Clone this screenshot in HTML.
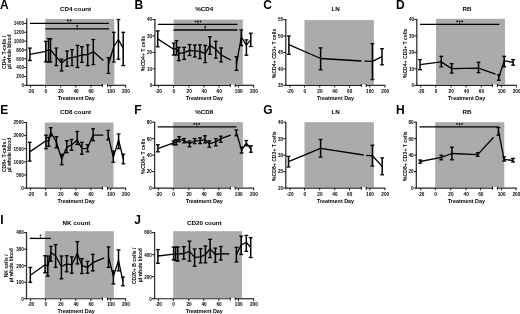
<!DOCTYPE html>
<html><head><meta charset="utf-8"><style>
html,body{margin:0;padding:0;background:#fff;width:520px;height:314px;overflow:hidden}
svg{display:block;filter:blur(0.3px)}
text{font-family:"Liberation Sans",sans-serif}
</style></head><body>
<svg width="520" height="314" viewBox="0 0 520 314">
<rect width="520" height="314" fill="#fff"/>
<rect x="45.30" y="18.90" width="69.00" height="65.60" fill="#ababab"/>
<rect x="173.60" y="19.60" width="69.20" height="64.90" fill="#ababab"/>
<rect x="304.50" y="20.10" width="69.40" height="64.40" fill="#ababab"/>
<rect x="436.00" y="18.80" width="69.00" height="65.70" fill="#ababab"/>
<rect x="44.80" y="122.50" width="68.70" height="64.80" fill="#ababab"/>
<rect x="173.20" y="122.20" width="69.70" height="65.10" fill="#ababab"/>
<rect x="304.50" y="122.20" width="69.40" height="65.10" fill="#ababab"/>
<rect x="435.20" y="122.20" width="69.10" height="65.10" fill="#ababab"/>
<rect x="44.80" y="231.20" width="69.00" height="66.75" fill="#ababab"/>
<rect x="173.20" y="231.20" width="68.80" height="66.75" fill="#ababab"/>
<g stroke="#000" fill="none" stroke-linecap="butt">
<line x1="26.70" y1="18.50" x2="26.70" y2="85.80" stroke-width="1.3" stroke="#333"/>
<line x1="24.10" y1="85.30" x2="26.70" y2="85.30" stroke-width="0.9"/>
<line x1="24.10" y1="76.46" x2="26.70" y2="76.46" stroke-width="0.9"/>
<line x1="24.10" y1="67.62" x2="26.70" y2="67.62" stroke-width="0.9"/>
<line x1="24.10" y1="58.78" x2="26.70" y2="58.78" stroke-width="0.9"/>
<line x1="24.10" y1="49.94" x2="26.70" y2="49.94" stroke-width="0.9"/>
<line x1="24.10" y1="41.10" x2="26.70" y2="41.10" stroke-width="0.9"/>
<line x1="24.10" y1="32.26" x2="26.70" y2="32.26" stroke-width="0.9"/>
<line x1="24.10" y1="23.42" x2="26.70" y2="23.42" stroke-width="0.9"/>
<line x1="26.10" y1="85.30" x2="102.40" y2="85.30" stroke-width="1.2" stroke="#222"/>
<line x1="107.50" y1="85.30" x2="125.90" y2="85.30" stroke-width="1.2" stroke="#222"/>
<line x1="102.40" y1="84.10" x2="102.40" y2="86.90" stroke-width="1.0"/>
<line x1="107.50" y1="84.10" x2="107.50" y2="86.90" stroke-width="1.0"/>
<line x1="30.60" y1="85.30" x2="30.60" y2="87.50" stroke-width="0.9"/>
<line x1="45.60" y1="85.30" x2="45.60" y2="87.50" stroke-width="0.9"/>
<line x1="60.70" y1="85.30" x2="60.70" y2="87.50" stroke-width="0.9"/>
<line x1="75.80" y1="85.30" x2="75.80" y2="87.50" stroke-width="0.9"/>
<line x1="90.90" y1="85.30" x2="90.90" y2="87.50" stroke-width="0.9"/>
<line x1="110.70" y1="85.30" x2="110.70" y2="87.50" stroke-width="0.9"/>
<line x1="125.70" y1="85.30" x2="125.70" y2="87.50" stroke-width="0.9"/>
<line x1="30.00" y1="23.40" x2="109.00" y2="23.40" stroke-width="1.3"/>
<line x1="69.20" y1="22.00" x2="69.20" y2="23.40" stroke-width="0.8"/>
<line x1="45.30" y1="28.80" x2="109.00" y2="28.80" stroke-width="1.3"/>
<line x1="77.20" y1="27.40" x2="77.20" y2="28.80" stroke-width="0.8"/>
<polyline points="29.90,54.40 45.80,51.30 48.60,49.70 50.50,50.00 56.25,56.70 61.60,63.00 67.10,58.60 72.00,57.70 77.50,56.40 81.90,55.00 87.70,54.70 93.30,51.60 103.40,60.60" stroke-width="1.3" stroke-linejoin="round"/>
<line x1="29.90" y1="48.10" x2="29.90" y2="60.50" stroke-width="1.5"/>
<line x1="28.00" y1="48.10" x2="31.80" y2="48.10" stroke-width="1.3"/>
<line x1="28.00" y1="60.50" x2="31.80" y2="60.50" stroke-width="1.3"/>
<line x1="45.80" y1="41.40" x2="45.80" y2="61.80" stroke-width="1.5"/>
<line x1="43.90" y1="41.40" x2="47.70" y2="41.40" stroke-width="1.3"/>
<line x1="43.90" y1="61.80" x2="47.70" y2="61.80" stroke-width="1.3"/>
<line x1="48.60" y1="38.60" x2="48.60" y2="62.00" stroke-width="1.5"/>
<line x1="46.70" y1="38.60" x2="50.50" y2="38.60" stroke-width="1.3"/>
<line x1="46.70" y1="62.00" x2="50.50" y2="62.00" stroke-width="1.3"/>
<line x1="50.50" y1="38.80" x2="50.50" y2="62.00" stroke-width="1.5"/>
<line x1="48.60" y1="38.80" x2="52.40" y2="38.80" stroke-width="1.3"/>
<line x1="48.60" y1="62.00" x2="52.40" y2="62.00" stroke-width="1.3"/>
<line x1="56.25" y1="48.10" x2="56.25" y2="65.60" stroke-width="1.5"/>
<line x1="54.35" y1="48.10" x2="58.15" y2="48.10" stroke-width="1.3"/>
<line x1="54.35" y1="65.60" x2="58.15" y2="65.60" stroke-width="1.3"/>
<line x1="61.60" y1="59.20" x2="61.60" y2="71.00" stroke-width="1.5"/>
<line x1="59.70" y1="59.20" x2="63.50" y2="59.20" stroke-width="1.3"/>
<line x1="59.70" y1="71.00" x2="63.50" y2="71.00" stroke-width="1.3"/>
<line x1="67.10" y1="51.00" x2="67.10" y2="66.25" stroke-width="1.5"/>
<line x1="65.20" y1="51.00" x2="69.00" y2="51.00" stroke-width="1.3"/>
<line x1="65.20" y1="66.25" x2="69.00" y2="66.25" stroke-width="1.3"/>
<line x1="72.00" y1="49.60" x2="72.00" y2="65.60" stroke-width="1.5"/>
<line x1="70.10" y1="49.60" x2="73.90" y2="49.60" stroke-width="1.3"/>
<line x1="70.10" y1="65.60" x2="73.90" y2="65.60" stroke-width="1.3"/>
<line x1="77.50" y1="45.40" x2="77.50" y2="67.50" stroke-width="1.5"/>
<line x1="75.60" y1="45.40" x2="79.40" y2="45.40" stroke-width="1.3"/>
<line x1="75.60" y1="67.50" x2="79.40" y2="67.50" stroke-width="1.3"/>
<line x1="81.90" y1="46.70" x2="81.90" y2="62.40" stroke-width="1.5"/>
<line x1="80.00" y1="46.70" x2="83.80" y2="46.70" stroke-width="1.3"/>
<line x1="80.00" y1="62.40" x2="83.80" y2="62.40" stroke-width="1.3"/>
<line x1="87.70" y1="44.90" x2="87.70" y2="65.60" stroke-width="1.5"/>
<line x1="85.80" y1="44.90" x2="89.60" y2="44.90" stroke-width="1.3"/>
<line x1="85.80" y1="65.60" x2="89.60" y2="65.60" stroke-width="1.3"/>
<line x1="93.30" y1="39.50" x2="93.30" y2="64.60" stroke-width="1.5"/>
<line x1="91.40" y1="39.50" x2="95.20" y2="39.50" stroke-width="1.3"/>
<line x1="91.40" y1="64.60" x2="95.20" y2="64.60" stroke-width="1.3"/>
<polyline points="108.40,64.50 113.80,46.50 118.40,39.50 123.20,48.40" stroke-width="1.3" stroke-linejoin="round"/>
<line x1="108.40" y1="57.60" x2="108.40" y2="73.40" stroke-width="1.5"/>
<line x1="106.50" y1="57.60" x2="110.30" y2="57.60" stroke-width="1.3"/>
<line x1="106.50" y1="73.40" x2="110.30" y2="73.40" stroke-width="1.3"/>
<line x1="113.80" y1="32.30" x2="113.80" y2="62.00" stroke-width="1.5"/>
<line x1="111.90" y1="32.30" x2="115.70" y2="32.30" stroke-width="1.3"/>
<line x1="111.90" y1="62.00" x2="115.70" y2="62.00" stroke-width="1.3"/>
<line x1="118.40" y1="19.50" x2="118.40" y2="59.20" stroke-width="1.5"/>
<line x1="116.50" y1="19.50" x2="120.30" y2="19.50" stroke-width="1.3"/>
<line x1="116.50" y1="59.20" x2="120.30" y2="59.20" stroke-width="1.3"/>
<line x1="123.20" y1="32.30" x2="123.20" y2="65.60" stroke-width="1.5"/>
<line x1="121.30" y1="32.30" x2="125.10" y2="32.30" stroke-width="1.3"/>
<line x1="121.30" y1="65.60" x2="125.10" y2="65.60" stroke-width="1.3"/>
<line x1="154.90" y1="19.00" x2="154.90" y2="85.80" stroke-width="1.3" stroke="#333"/>
<line x1="152.30" y1="85.30" x2="154.90" y2="85.30" stroke-width="0.9"/>
<line x1="152.30" y1="68.85" x2="154.90" y2="68.85" stroke-width="0.9"/>
<line x1="152.30" y1="52.40" x2="154.90" y2="52.40" stroke-width="0.9"/>
<line x1="152.30" y1="35.95" x2="154.90" y2="35.95" stroke-width="0.9"/>
<line x1="152.30" y1="19.50" x2="154.90" y2="19.50" stroke-width="0.9"/>
<line x1="154.30" y1="85.30" x2="230.30" y2="85.30" stroke-width="1.2" stroke="#222"/>
<line x1="235.20" y1="85.30" x2="253.90" y2="85.30" stroke-width="1.2" stroke="#222"/>
<line x1="230.30" y1="84.10" x2="230.30" y2="86.90" stroke-width="1.0"/>
<line x1="235.20" y1="84.10" x2="235.20" y2="86.90" stroke-width="1.0"/>
<line x1="158.40" y1="85.30" x2="158.40" y2="87.50" stroke-width="0.9"/>
<line x1="173.50" y1="85.30" x2="173.50" y2="87.50" stroke-width="0.9"/>
<line x1="189.00" y1="85.30" x2="189.00" y2="87.50" stroke-width="0.9"/>
<line x1="204.00" y1="85.30" x2="204.00" y2="87.50" stroke-width="0.9"/>
<line x1="219.00" y1="85.30" x2="219.00" y2="87.50" stroke-width="0.9"/>
<line x1="238.50" y1="85.30" x2="238.50" y2="87.50" stroke-width="0.9"/>
<line x1="253.70" y1="85.30" x2="253.70" y2="87.50" stroke-width="0.9"/>
<line x1="158.00" y1="24.40" x2="237.40" y2="24.40" stroke-width="1.3"/>
<line x1="198.00" y1="23.00" x2="198.00" y2="24.40" stroke-width="0.8"/>
<line x1="173.60" y1="30.00" x2="237.40" y2="30.00" stroke-width="1.3"/>
<line x1="205.20" y1="28.60" x2="205.20" y2="30.00" stroke-width="0.8"/>
<polyline points="157.70,38.90 173.70,49.30 176.50,48.40 178.80,53.60 184.10,52.70 189.60,50.30 194.80,50.80 199.90,51.40 205.20,53.70 209.90,45.40 215.80,49.20 221.10,54.90 230.70,60.00" stroke-width="1.3" stroke-linejoin="round"/>
<line x1="157.70" y1="30.90" x2="157.70" y2="46.80" stroke-width="1.5"/>
<line x1="155.80" y1="30.90" x2="159.60" y2="30.90" stroke-width="1.3"/>
<line x1="155.80" y1="46.80" x2="159.60" y2="46.80" stroke-width="1.3"/>
<line x1="173.70" y1="43.10" x2="173.70" y2="55.00" stroke-width="1.5"/>
<line x1="171.80" y1="43.10" x2="175.60" y2="43.10" stroke-width="1.3"/>
<line x1="171.80" y1="55.00" x2="175.60" y2="55.00" stroke-width="1.3"/>
<line x1="176.50" y1="40.70" x2="176.50" y2="55.00" stroke-width="1.5"/>
<line x1="174.60" y1="40.70" x2="178.40" y2="40.70" stroke-width="1.3"/>
<line x1="174.60" y1="55.00" x2="178.40" y2="55.00" stroke-width="1.3"/>
<line x1="178.80" y1="47.40" x2="178.80" y2="60.60" stroke-width="1.5"/>
<line x1="176.90" y1="47.40" x2="180.70" y2="47.40" stroke-width="1.3"/>
<line x1="176.90" y1="60.60" x2="180.70" y2="60.60" stroke-width="1.3"/>
<line x1="184.10" y1="47.40" x2="184.10" y2="59.40" stroke-width="1.5"/>
<line x1="182.20" y1="47.40" x2="186.00" y2="47.40" stroke-width="1.3"/>
<line x1="182.20" y1="59.40" x2="186.00" y2="59.40" stroke-width="1.3"/>
<line x1="189.60" y1="44.50" x2="189.60" y2="55.50" stroke-width="1.5"/>
<line x1="187.70" y1="44.50" x2="191.50" y2="44.50" stroke-width="1.3"/>
<line x1="187.70" y1="55.50" x2="191.50" y2="55.50" stroke-width="1.3"/>
<line x1="194.80" y1="45.00" x2="194.80" y2="57.00" stroke-width="1.5"/>
<line x1="192.90" y1="45.00" x2="196.70" y2="45.00" stroke-width="1.3"/>
<line x1="192.90" y1="57.00" x2="196.70" y2="57.00" stroke-width="1.3"/>
<line x1="199.90" y1="44.80" x2="199.90" y2="58.60" stroke-width="1.5"/>
<line x1="198.00" y1="44.80" x2="201.80" y2="44.80" stroke-width="1.3"/>
<line x1="198.00" y1="58.60" x2="201.80" y2="58.60" stroke-width="1.3"/>
<line x1="205.20" y1="45.40" x2="205.20" y2="62.60" stroke-width="1.5"/>
<line x1="203.30" y1="45.40" x2="207.10" y2="45.40" stroke-width="1.3"/>
<line x1="203.30" y1="62.60" x2="207.10" y2="62.60" stroke-width="1.3"/>
<line x1="209.90" y1="36.70" x2="209.90" y2="54.30" stroke-width="1.5"/>
<line x1="208.00" y1="36.70" x2="211.80" y2="36.70" stroke-width="1.3"/>
<line x1="208.00" y1="54.30" x2="211.80" y2="54.30" stroke-width="1.3"/>
<line x1="215.80" y1="41.30" x2="215.80" y2="58.10" stroke-width="1.5"/>
<line x1="213.90" y1="41.30" x2="217.70" y2="41.30" stroke-width="1.3"/>
<line x1="213.90" y1="58.10" x2="217.70" y2="58.10" stroke-width="1.3"/>
<line x1="221.10" y1="47.90" x2="221.10" y2="61.90" stroke-width="1.5"/>
<line x1="219.20" y1="47.90" x2="223.00" y2="47.90" stroke-width="1.3"/>
<line x1="219.20" y1="61.90" x2="223.00" y2="61.90" stroke-width="1.3"/>
<polyline points="236.50,63.80 241.30,37.00 246.40,45.20 250.80,39.90" stroke-width="1.3" stroke-linejoin="round"/>
<line x1="236.50" y1="56.70" x2="236.50" y2="70.40" stroke-width="1.5"/>
<line x1="234.60" y1="56.70" x2="238.40" y2="56.70" stroke-width="1.3"/>
<line x1="234.60" y1="70.40" x2="238.40" y2="70.40" stroke-width="1.3"/>
<line x1="241.30" y1="29.90" x2="241.30" y2="45.60" stroke-width="1.5"/>
<line x1="239.40" y1="29.90" x2="243.20" y2="29.90" stroke-width="1.3"/>
<line x1="239.40" y1="45.60" x2="243.20" y2="45.60" stroke-width="1.3"/>
<line x1="246.40" y1="39.90" x2="246.40" y2="55.20" stroke-width="1.5"/>
<line x1="244.50" y1="39.90" x2="248.30" y2="39.90" stroke-width="1.3"/>
<line x1="244.50" y1="55.20" x2="248.30" y2="55.20" stroke-width="1.3"/>
<line x1="250.80" y1="33.20" x2="250.80" y2="46.50" stroke-width="1.5"/>
<line x1="248.90" y1="33.20" x2="252.70" y2="33.20" stroke-width="1.3"/>
<line x1="248.90" y1="46.50" x2="252.70" y2="46.50" stroke-width="1.3"/>
<line x1="285.80" y1="19.10" x2="285.80" y2="85.80" stroke-width="1.3" stroke="#333"/>
<line x1="283.20" y1="85.30" x2="285.80" y2="85.30" stroke-width="0.9"/>
<line x1="283.20" y1="68.88" x2="285.80" y2="68.88" stroke-width="0.9"/>
<line x1="283.20" y1="52.45" x2="285.80" y2="52.45" stroke-width="0.9"/>
<line x1="283.20" y1="36.03" x2="285.80" y2="36.03" stroke-width="0.9"/>
<line x1="283.20" y1="19.60" x2="285.80" y2="19.60" stroke-width="0.9"/>
<line x1="285.20" y1="85.30" x2="361.40" y2="85.30" stroke-width="1.2" stroke="#222"/>
<line x1="366.20" y1="85.30" x2="385.20" y2="85.30" stroke-width="1.2" stroke="#222"/>
<line x1="361.40" y1="84.10" x2="361.40" y2="86.90" stroke-width="1.0"/>
<line x1="366.20" y1="84.10" x2="366.20" y2="86.90" stroke-width="1.0"/>
<line x1="290.00" y1="85.30" x2="290.00" y2="87.50" stroke-width="0.9"/>
<line x1="304.50" y1="85.30" x2="304.50" y2="87.50" stroke-width="0.9"/>
<line x1="319.70" y1="85.30" x2="319.70" y2="87.50" stroke-width="0.9"/>
<line x1="334.70" y1="85.30" x2="334.70" y2="87.50" stroke-width="0.9"/>
<line x1="349.50" y1="85.30" x2="349.50" y2="87.50" stroke-width="0.9"/>
<line x1="369.80" y1="85.30" x2="369.80" y2="87.50" stroke-width="0.9"/>
<line x1="385.00" y1="85.30" x2="385.00" y2="87.50" stroke-width="0.9"/>
<polyline points="288.90,44.70 320.60,58.50 361.40,61.00" stroke-width="1.3" stroke-linejoin="round"/>
<line x1="288.90" y1="36.00" x2="288.90" y2="54.20" stroke-width="1.5"/>
<line x1="287.00" y1="36.00" x2="290.80" y2="36.00" stroke-width="1.3"/>
<line x1="287.00" y1="54.20" x2="290.80" y2="54.20" stroke-width="1.3"/>
<line x1="320.60" y1="47.90" x2="320.60" y2="69.80" stroke-width="1.5"/>
<line x1="318.70" y1="47.90" x2="322.50" y2="47.90" stroke-width="1.3"/>
<line x1="318.70" y1="69.80" x2="322.50" y2="69.80" stroke-width="1.3"/>
<polyline points="364.60,61.20 372.40,61.40 382.00,56.70" stroke-width="1.3" stroke-linejoin="round"/>
<line x1="372.40" y1="43.60" x2="372.40" y2="79.60" stroke-width="1.5"/>
<line x1="370.50" y1="43.60" x2="374.30" y2="43.60" stroke-width="1.3"/>
<line x1="370.50" y1="79.60" x2="374.30" y2="79.60" stroke-width="1.3"/>
<line x1="382.00" y1="48.70" x2="382.00" y2="64.80" stroke-width="1.5"/>
<line x1="380.10" y1="48.70" x2="383.90" y2="48.70" stroke-width="1.3"/>
<line x1="380.10" y1="64.80" x2="383.90" y2="64.80" stroke-width="1.3"/>
<line x1="416.80" y1="18.90" x2="416.80" y2="85.80" stroke-width="1.3" stroke="#333"/>
<line x1="414.20" y1="85.30" x2="416.80" y2="85.30" stroke-width="0.9"/>
<line x1="414.20" y1="68.82" x2="416.80" y2="68.82" stroke-width="0.9"/>
<line x1="414.20" y1="52.35" x2="416.80" y2="52.35" stroke-width="0.9"/>
<line x1="414.20" y1="35.87" x2="416.80" y2="35.87" stroke-width="0.9"/>
<line x1="414.20" y1="19.40" x2="416.80" y2="19.40" stroke-width="0.9"/>
<line x1="416.20" y1="85.30" x2="492.50" y2="85.30" stroke-width="1.2" stroke="#222"/>
<line x1="497.40" y1="85.30" x2="516.60" y2="85.30" stroke-width="1.2" stroke="#222"/>
<line x1="492.50" y1="84.10" x2="492.50" y2="86.90" stroke-width="1.0"/>
<line x1="497.40" y1="84.10" x2="497.40" y2="86.90" stroke-width="1.0"/>
<line x1="420.80" y1="85.30" x2="420.80" y2="87.50" stroke-width="0.9"/>
<line x1="435.80" y1="85.30" x2="435.80" y2="87.50" stroke-width="0.9"/>
<line x1="451.00" y1="85.30" x2="451.00" y2="87.50" stroke-width="0.9"/>
<line x1="466.20" y1="85.30" x2="466.20" y2="87.50" stroke-width="0.9"/>
<line x1="481.20" y1="85.30" x2="481.20" y2="87.50" stroke-width="0.9"/>
<line x1="501.40" y1="85.30" x2="501.40" y2="87.50" stroke-width="0.9"/>
<line x1="516.40" y1="85.30" x2="516.40" y2="87.50" stroke-width="0.9"/>
<line x1="420.00" y1="24.40" x2="499.30" y2="24.40" stroke-width="1.3"/>
<line x1="459.60" y1="23.00" x2="459.60" y2="24.40" stroke-width="0.8"/>
<polyline points="420.00,64.60 441.25,61.90 451.70,68.60 478.50,68.10 495.50,74.20" stroke-width="1.3" stroke-linejoin="round"/>
<line x1="420.00" y1="59.60" x2="420.00" y2="69.70" stroke-width="1.5"/>
<line x1="418.10" y1="59.60" x2="421.90" y2="59.60" stroke-width="1.3"/>
<line x1="418.10" y1="69.70" x2="421.90" y2="69.70" stroke-width="1.3"/>
<line x1="441.25" y1="56.30" x2="441.25" y2="66.80" stroke-width="1.5"/>
<line x1="439.35" y1="56.30" x2="443.15" y2="56.30" stroke-width="1.3"/>
<line x1="439.35" y1="66.80" x2="443.15" y2="66.80" stroke-width="1.3"/>
<line x1="451.70" y1="63.70" x2="451.70" y2="73.00" stroke-width="1.5"/>
<line x1="449.80" y1="63.70" x2="453.60" y2="63.70" stroke-width="1.3"/>
<line x1="449.80" y1="73.00" x2="453.60" y2="73.00" stroke-width="1.3"/>
<line x1="478.50" y1="62.30" x2="478.50" y2="72.60" stroke-width="1.5"/>
<line x1="476.60" y1="62.30" x2="480.40" y2="62.30" stroke-width="1.3"/>
<line x1="476.60" y1="72.60" x2="480.40" y2="72.60" stroke-width="1.3"/>
<polyline points="498.80,77.50 504.20,60.80 513.10,62.30" stroke-width="1.3" stroke-linejoin="round"/>
<line x1="498.80" y1="74.80" x2="498.80" y2="80.20" stroke-width="1.5"/>
<line x1="496.90" y1="74.80" x2="500.70" y2="74.80" stroke-width="1.3"/>
<line x1="496.90" y1="80.20" x2="500.70" y2="80.20" stroke-width="1.3"/>
<line x1="504.20" y1="56.30" x2="504.20" y2="66.80" stroke-width="1.5"/>
<line x1="502.30" y1="56.30" x2="506.10" y2="56.30" stroke-width="1.3"/>
<line x1="502.30" y1="66.80" x2="506.10" y2="66.80" stroke-width="1.3"/>
<line x1="513.10" y1="59.60" x2="513.10" y2="65.20" stroke-width="1.5"/>
<line x1="511.20" y1="59.60" x2="515.00" y2="59.60" stroke-width="1.3"/>
<line x1="511.20" y1="65.20" x2="515.00" y2="65.20" stroke-width="1.3"/>
<line x1="26.50" y1="122.00" x2="26.50" y2="188.60" stroke-width="1.3" stroke="#333"/>
<line x1="23.90" y1="188.10" x2="26.50" y2="188.10" stroke-width="0.9"/>
<line x1="23.90" y1="174.98" x2="26.50" y2="174.98" stroke-width="0.9"/>
<line x1="23.90" y1="161.86" x2="26.50" y2="161.86" stroke-width="0.9"/>
<line x1="23.90" y1="148.74" x2="26.50" y2="148.74" stroke-width="0.9"/>
<line x1="23.90" y1="135.62" x2="26.50" y2="135.62" stroke-width="0.9"/>
<line x1="23.90" y1="122.50" x2="26.50" y2="122.50" stroke-width="0.9"/>
<line x1="25.90" y1="188.10" x2="102.40" y2="188.10" stroke-width="1.2" stroke="#222"/>
<line x1="107.50" y1="188.10" x2="125.90" y2="188.10" stroke-width="1.2" stroke="#222"/>
<line x1="102.40" y1="186.90" x2="102.40" y2="189.70" stroke-width="1.0"/>
<line x1="107.50" y1="186.90" x2="107.50" y2="189.70" stroke-width="1.0"/>
<line x1="30.60" y1="188.10" x2="30.60" y2="190.30" stroke-width="0.9"/>
<line x1="45.60" y1="188.10" x2="45.60" y2="190.30" stroke-width="0.9"/>
<line x1="60.70" y1="188.10" x2="60.70" y2="190.30" stroke-width="0.9"/>
<line x1="75.80" y1="188.10" x2="75.80" y2="190.30" stroke-width="0.9"/>
<line x1="90.90" y1="188.10" x2="90.90" y2="190.30" stroke-width="0.9"/>
<line x1="110.70" y1="188.10" x2="110.70" y2="190.30" stroke-width="0.9"/>
<line x1="125.70" y1="188.10" x2="125.70" y2="190.30" stroke-width="0.9"/>
<polyline points="29.70,151.90 46.00,140.70 48.60,141.50 50.80,132.00 56.40,142.30 61.70,159.10 66.80,147.10 71.50,145.00 77.20,139.90 81.90,148.70 87.50,148.30 93.10,135.10 103.40,135.10" stroke-width="1.3" stroke-linejoin="round"/>
<line x1="29.70" y1="142.30" x2="29.70" y2="161.10" stroke-width="1.5"/>
<line x1="27.80" y1="142.30" x2="31.60" y2="142.30" stroke-width="1.3"/>
<line x1="27.80" y1="161.10" x2="31.60" y2="161.10" stroke-width="1.3"/>
<line x1="46.00" y1="135.20" x2="46.00" y2="148.70" stroke-width="1.5"/>
<line x1="44.10" y1="135.20" x2="47.90" y2="135.20" stroke-width="1.3"/>
<line x1="44.10" y1="148.70" x2="47.90" y2="148.70" stroke-width="1.3"/>
<line x1="48.60" y1="137.50" x2="48.60" y2="146.30" stroke-width="1.5"/>
<line x1="46.70" y1="137.50" x2="50.50" y2="137.50" stroke-width="1.3"/>
<line x1="46.70" y1="146.30" x2="50.50" y2="146.30" stroke-width="1.3"/>
<line x1="50.80" y1="127.70" x2="50.80" y2="136.00" stroke-width="1.5"/>
<line x1="48.90" y1="127.70" x2="52.70" y2="127.70" stroke-width="1.3"/>
<line x1="48.90" y1="136.00" x2="52.70" y2="136.00" stroke-width="1.3"/>
<line x1="56.40" y1="136.70" x2="56.40" y2="147.90" stroke-width="1.5"/>
<line x1="54.50" y1="136.70" x2="58.30" y2="136.70" stroke-width="1.3"/>
<line x1="54.50" y1="147.90" x2="58.30" y2="147.90" stroke-width="1.3"/>
<line x1="61.70" y1="154.30" x2="61.70" y2="164.70" stroke-width="1.5"/>
<line x1="59.80" y1="154.30" x2="63.60" y2="154.30" stroke-width="1.3"/>
<line x1="59.80" y1="164.70" x2="63.60" y2="164.70" stroke-width="1.3"/>
<line x1="66.80" y1="140.70" x2="66.80" y2="152.70" stroke-width="1.5"/>
<line x1="64.90" y1="140.70" x2="68.70" y2="140.70" stroke-width="1.3"/>
<line x1="64.90" y1="152.70" x2="68.70" y2="152.70" stroke-width="1.3"/>
<line x1="71.50" y1="139.50" x2="71.50" y2="150.30" stroke-width="1.5"/>
<line x1="69.60" y1="139.50" x2="73.40" y2="139.50" stroke-width="1.3"/>
<line x1="69.60" y1="150.30" x2="73.40" y2="150.30" stroke-width="1.3"/>
<line x1="77.20" y1="131.50" x2="77.20" y2="144.50" stroke-width="1.5"/>
<line x1="75.30" y1="131.50" x2="79.10" y2="131.50" stroke-width="1.3"/>
<line x1="75.30" y1="144.50" x2="79.10" y2="144.50" stroke-width="1.3"/>
<line x1="81.90" y1="142.30" x2="81.90" y2="154.20" stroke-width="1.5"/>
<line x1="80.00" y1="142.30" x2="83.80" y2="142.30" stroke-width="1.3"/>
<line x1="80.00" y1="154.20" x2="83.80" y2="154.20" stroke-width="1.3"/>
<line x1="87.50" y1="144.70" x2="87.50" y2="151.80" stroke-width="1.5"/>
<line x1="85.60" y1="144.70" x2="89.40" y2="144.70" stroke-width="1.3"/>
<line x1="85.60" y1="151.80" x2="89.40" y2="151.80" stroke-width="1.3"/>
<line x1="93.10" y1="128.80" x2="93.10" y2="140.70" stroke-width="1.5"/>
<line x1="91.20" y1="128.80" x2="95.00" y2="128.80" stroke-width="1.3"/>
<line x1="91.20" y1="140.70" x2="95.00" y2="140.70" stroke-width="1.3"/>
<polyline points="108.20,135.10 113.30,157.40 118.60,139.90 123.30,159.00" stroke-width="1.3" stroke-linejoin="round"/>
<line x1="108.20" y1="130.40" x2="108.20" y2="139.90" stroke-width="1.5"/>
<line x1="106.30" y1="130.40" x2="110.10" y2="130.40" stroke-width="1.3"/>
<line x1="106.30" y1="139.90" x2="110.10" y2="139.90" stroke-width="1.3"/>
<line x1="113.30" y1="151.00" x2="113.30" y2="162.20" stroke-width="1.5"/>
<line x1="111.40" y1="151.00" x2="115.20" y2="151.00" stroke-width="1.3"/>
<line x1="111.40" y1="162.20" x2="115.20" y2="162.20" stroke-width="1.3"/>
<line x1="118.60" y1="134.00" x2="118.60" y2="148.70" stroke-width="1.5"/>
<line x1="116.70" y1="134.00" x2="120.50" y2="134.00" stroke-width="1.3"/>
<line x1="116.70" y1="148.70" x2="120.50" y2="148.70" stroke-width="1.3"/>
<line x1="123.30" y1="154.20" x2="123.30" y2="163.80" stroke-width="1.5"/>
<line x1="121.40" y1="154.20" x2="125.20" y2="154.20" stroke-width="1.3"/>
<line x1="121.40" y1="163.80" x2="125.20" y2="163.80" stroke-width="1.3"/>
<line x1="154.60" y1="121.70" x2="154.60" y2="188.60" stroke-width="1.3" stroke="#333"/>
<line x1="152.00" y1="188.10" x2="154.60" y2="188.10" stroke-width="0.9"/>
<line x1="152.00" y1="171.62" x2="154.60" y2="171.62" stroke-width="0.9"/>
<line x1="152.00" y1="155.15" x2="154.60" y2="155.15" stroke-width="0.9"/>
<line x1="152.00" y1="138.68" x2="154.60" y2="138.68" stroke-width="0.9"/>
<line x1="152.00" y1="122.20" x2="154.60" y2="122.20" stroke-width="0.9"/>
<line x1="154.00" y1="188.10" x2="230.30" y2="188.10" stroke-width="1.2" stroke="#222"/>
<line x1="235.20" y1="188.10" x2="253.90" y2="188.10" stroke-width="1.2" stroke="#222"/>
<line x1="230.30" y1="186.90" x2="230.30" y2="189.70" stroke-width="1.0"/>
<line x1="235.20" y1="186.90" x2="235.20" y2="189.70" stroke-width="1.0"/>
<line x1="158.40" y1="188.10" x2="158.40" y2="190.30" stroke-width="0.9"/>
<line x1="173.30" y1="188.10" x2="173.30" y2="190.30" stroke-width="0.9"/>
<line x1="188.80" y1="188.10" x2="188.80" y2="190.30" stroke-width="0.9"/>
<line x1="203.80" y1="188.10" x2="203.80" y2="190.30" stroke-width="0.9"/>
<line x1="218.80" y1="188.10" x2="218.80" y2="190.30" stroke-width="0.9"/>
<line x1="238.50" y1="188.10" x2="238.50" y2="190.30" stroke-width="0.9"/>
<line x1="253.70" y1="188.10" x2="253.70" y2="190.30" stroke-width="0.9"/>
<line x1="157.60" y1="126.80" x2="236.50" y2="126.80" stroke-width="1.3"/>
<line x1="196.80" y1="125.40" x2="196.80" y2="126.80" stroke-width="0.8"/>
<polyline points="157.90,148.70 173.60,142.90 176.10,142.30 179.00,139.10 184.10,140.60 189.50,143.60 194.60,141.00 200.10,140.70 205.00,139.60 209.30,143.70 215.80,141.90 220.80,138.60 230.80,135.10" stroke-width="1.3" stroke-linejoin="round"/>
<line x1="157.90" y1="144.80" x2="157.90" y2="151.80" stroke-width="1.5"/>
<line x1="156.00" y1="144.80" x2="159.80" y2="144.80" stroke-width="1.3"/>
<line x1="156.00" y1="151.80" x2="159.80" y2="151.80" stroke-width="1.3"/>
<line x1="173.60" y1="141.00" x2="173.60" y2="144.80" stroke-width="1.5"/>
<line x1="171.70" y1="141.00" x2="175.50" y2="141.00" stroke-width="1.3"/>
<line x1="171.70" y1="144.80" x2="175.50" y2="144.80" stroke-width="1.3"/>
<line x1="176.10" y1="139.70" x2="176.10" y2="144.80" stroke-width="1.5"/>
<line x1="174.20" y1="139.70" x2="178.00" y2="139.70" stroke-width="1.3"/>
<line x1="174.20" y1="144.80" x2="178.00" y2="144.80" stroke-width="1.3"/>
<line x1="179.00" y1="136.60" x2="179.00" y2="141.70" stroke-width="1.5"/>
<line x1="177.10" y1="136.60" x2="180.90" y2="136.60" stroke-width="1.3"/>
<line x1="177.10" y1="141.70" x2="180.90" y2="141.70" stroke-width="1.3"/>
<line x1="184.10" y1="138.50" x2="184.10" y2="142.90" stroke-width="1.5"/>
<line x1="182.20" y1="138.50" x2="186.00" y2="138.50" stroke-width="1.3"/>
<line x1="182.20" y1="142.90" x2="186.00" y2="142.90" stroke-width="1.3"/>
<line x1="189.50" y1="141.00" x2="189.50" y2="146.80" stroke-width="1.5"/>
<line x1="187.60" y1="141.00" x2="191.40" y2="141.00" stroke-width="1.3"/>
<line x1="187.60" y1="146.80" x2="191.40" y2="146.80" stroke-width="1.3"/>
<line x1="194.60" y1="138.50" x2="194.60" y2="143.60" stroke-width="1.5"/>
<line x1="192.70" y1="138.50" x2="196.50" y2="138.50" stroke-width="1.3"/>
<line x1="192.70" y1="143.60" x2="196.50" y2="143.60" stroke-width="1.3"/>
<line x1="200.10" y1="137.80" x2="200.10" y2="143.60" stroke-width="1.5"/>
<line x1="198.20" y1="137.80" x2="202.00" y2="137.80" stroke-width="1.3"/>
<line x1="198.20" y1="143.60" x2="202.00" y2="143.60" stroke-width="1.3"/>
<line x1="205.00" y1="135.80" x2="205.00" y2="142.90" stroke-width="1.5"/>
<line x1="203.10" y1="135.80" x2="206.90" y2="135.80" stroke-width="1.3"/>
<line x1="203.10" y1="142.90" x2="206.90" y2="142.90" stroke-width="1.3"/>
<line x1="209.30" y1="140.80" x2="209.30" y2="147.20" stroke-width="1.5"/>
<line x1="207.40" y1="140.80" x2="211.20" y2="140.80" stroke-width="1.3"/>
<line x1="207.40" y1="147.20" x2="211.20" y2="147.20" stroke-width="1.3"/>
<line x1="215.80" y1="138.60" x2="215.80" y2="145.80" stroke-width="1.5"/>
<line x1="213.90" y1="138.60" x2="217.70" y2="138.60" stroke-width="1.3"/>
<line x1="213.90" y1="145.80" x2="217.70" y2="145.80" stroke-width="1.3"/>
<line x1="220.80" y1="136.20" x2="220.80" y2="142.20" stroke-width="1.5"/>
<line x1="218.90" y1="136.20" x2="222.70" y2="136.20" stroke-width="1.3"/>
<line x1="218.90" y1="142.20" x2="222.70" y2="142.20" stroke-width="1.3"/>
<polyline points="236.30,132.50 241.60,150.10 246.30,142.90 250.90,149.40" stroke-width="1.3" stroke-linejoin="round"/>
<line x1="236.30" y1="130.00" x2="236.30" y2="135.80" stroke-width="1.5"/>
<line x1="234.40" y1="130.00" x2="238.20" y2="130.00" stroke-width="1.3"/>
<line x1="234.40" y1="135.80" x2="238.20" y2="135.80" stroke-width="1.3"/>
<line x1="241.60" y1="147.20" x2="241.60" y2="153.00" stroke-width="1.5"/>
<line x1="239.70" y1="147.20" x2="243.50" y2="147.20" stroke-width="1.3"/>
<line x1="239.70" y1="153.00" x2="243.50" y2="153.00" stroke-width="1.3"/>
<line x1="246.30" y1="140.50" x2="246.30" y2="145.80" stroke-width="1.5"/>
<line x1="244.40" y1="140.50" x2="248.20" y2="140.50" stroke-width="1.3"/>
<line x1="244.40" y1="145.80" x2="248.20" y2="145.80" stroke-width="1.3"/>
<line x1="250.90" y1="145.80" x2="250.90" y2="152.20" stroke-width="1.5"/>
<line x1="249.00" y1="145.80" x2="252.80" y2="145.80" stroke-width="1.3"/>
<line x1="249.00" y1="152.20" x2="252.80" y2="152.20" stroke-width="1.3"/>
<line x1="285.80" y1="121.70" x2="285.80" y2="188.60" stroke-width="1.3" stroke="#333"/>
<line x1="283.20" y1="188.10" x2="285.80" y2="188.10" stroke-width="0.9"/>
<line x1="283.20" y1="171.62" x2="285.80" y2="171.62" stroke-width="0.9"/>
<line x1="283.20" y1="155.15" x2="285.80" y2="155.15" stroke-width="0.9"/>
<line x1="283.20" y1="138.68" x2="285.80" y2="138.68" stroke-width="0.9"/>
<line x1="283.20" y1="122.20" x2="285.80" y2="122.20" stroke-width="0.9"/>
<line x1="285.20" y1="188.10" x2="361.40" y2="188.10" stroke-width="1.2" stroke="#222"/>
<line x1="366.20" y1="188.10" x2="385.20" y2="188.10" stroke-width="1.2" stroke="#222"/>
<line x1="361.40" y1="186.90" x2="361.40" y2="189.70" stroke-width="1.0"/>
<line x1="366.20" y1="186.90" x2="366.20" y2="189.70" stroke-width="1.0"/>
<line x1="290.00" y1="188.10" x2="290.00" y2="190.30" stroke-width="0.9"/>
<line x1="304.50" y1="188.10" x2="304.50" y2="190.30" stroke-width="0.9"/>
<line x1="319.70" y1="188.10" x2="319.70" y2="190.30" stroke-width="0.9"/>
<line x1="334.70" y1="188.10" x2="334.70" y2="190.30" stroke-width="0.9"/>
<line x1="349.50" y1="188.10" x2="349.50" y2="190.30" stroke-width="0.9"/>
<line x1="369.80" y1="188.10" x2="369.80" y2="190.30" stroke-width="0.9"/>
<line x1="385.00" y1="188.10" x2="385.00" y2="190.30" stroke-width="0.9"/>
<polyline points="288.50,161.70 320.60,148.40 363.60,155.00" stroke-width="1.3" stroke-linejoin="round"/>
<line x1="288.50" y1="156.40" x2="288.50" y2="167.00" stroke-width="1.5"/>
<line x1="286.60" y1="156.40" x2="290.40" y2="156.40" stroke-width="1.3"/>
<line x1="286.60" y1="167.00" x2="290.40" y2="167.00" stroke-width="1.3"/>
<line x1="320.60" y1="139.50" x2="320.60" y2="157.10" stroke-width="1.5"/>
<line x1="318.70" y1="139.50" x2="322.50" y2="139.50" stroke-width="1.3"/>
<line x1="318.70" y1="157.10" x2="322.50" y2="157.10" stroke-width="1.3"/>
<polyline points="366.00,155.30 372.40,155.80 382.20,166.40" stroke-width="1.3" stroke-linejoin="round"/>
<line x1="372.40" y1="145.20" x2="372.40" y2="166.00" stroke-width="1.5"/>
<line x1="370.50" y1="145.20" x2="374.30" y2="145.20" stroke-width="1.3"/>
<line x1="370.50" y1="166.00" x2="374.30" y2="166.00" stroke-width="1.3"/>
<line x1="382.20" y1="157.90" x2="382.20" y2="174.80" stroke-width="1.5"/>
<line x1="380.30" y1="157.90" x2="384.10" y2="157.90" stroke-width="1.3"/>
<line x1="380.30" y1="174.80" x2="384.10" y2="174.80" stroke-width="1.3"/>
<line x1="416.30" y1="121.70" x2="416.30" y2="188.60" stroke-width="1.3" stroke="#333"/>
<line x1="413.70" y1="188.10" x2="416.30" y2="188.10" stroke-width="0.9"/>
<line x1="413.70" y1="171.62" x2="416.30" y2="171.62" stroke-width="0.9"/>
<line x1="413.70" y1="155.15" x2="416.30" y2="155.15" stroke-width="0.9"/>
<line x1="413.70" y1="138.68" x2="416.30" y2="138.68" stroke-width="0.9"/>
<line x1="413.70" y1="122.20" x2="416.30" y2="122.20" stroke-width="0.9"/>
<line x1="415.70" y1="188.10" x2="492.50" y2="188.10" stroke-width="1.2" stroke="#222"/>
<line x1="497.40" y1="188.10" x2="516.60" y2="188.10" stroke-width="1.2" stroke="#222"/>
<line x1="492.50" y1="186.90" x2="492.50" y2="189.70" stroke-width="1.0"/>
<line x1="497.40" y1="186.90" x2="497.40" y2="189.70" stroke-width="1.0"/>
<line x1="420.80" y1="188.10" x2="420.80" y2="190.30" stroke-width="0.9"/>
<line x1="435.30" y1="188.10" x2="435.30" y2="190.30" stroke-width="0.9"/>
<line x1="450.70" y1="188.10" x2="450.70" y2="190.30" stroke-width="0.9"/>
<line x1="466.00" y1="188.10" x2="466.00" y2="190.30" stroke-width="0.9"/>
<line x1="480.60" y1="188.10" x2="480.60" y2="190.30" stroke-width="0.9"/>
<line x1="501.40" y1="188.10" x2="501.40" y2="190.30" stroke-width="0.9"/>
<line x1="516.20" y1="188.10" x2="516.20" y2="190.30" stroke-width="0.9"/>
<line x1="419.50" y1="126.80" x2="498.90" y2="126.80" stroke-width="1.3"/>
<line x1="459.50" y1="125.40" x2="459.50" y2="126.80" stroke-width="0.8"/>
<polyline points="420.20,161.50 441.30,157.30 451.90,153.50 477.70,154.60 493.60,137.20" stroke-width="1.3" stroke-linejoin="round"/>
<line x1="420.20" y1="160.00" x2="420.20" y2="163.20" stroke-width="1.5"/>
<line x1="418.30" y1="160.00" x2="422.10" y2="160.00" stroke-width="1.3"/>
<line x1="418.30" y1="163.20" x2="422.10" y2="163.20" stroke-width="1.3"/>
<line x1="441.30" y1="155.20" x2="441.30" y2="159.80" stroke-width="1.5"/>
<line x1="439.40" y1="155.20" x2="443.20" y2="155.20" stroke-width="1.3"/>
<line x1="439.40" y1="159.80" x2="443.20" y2="159.80" stroke-width="1.3"/>
<line x1="451.90" y1="147.20" x2="451.90" y2="159.80" stroke-width="1.5"/>
<line x1="450.00" y1="147.20" x2="453.80" y2="147.20" stroke-width="1.3"/>
<line x1="450.00" y1="159.80" x2="453.80" y2="159.80" stroke-width="1.3"/>
<line x1="477.70" y1="152.70" x2="477.70" y2="156.30" stroke-width="1.5"/>
<line x1="475.80" y1="152.70" x2="479.60" y2="152.70" stroke-width="1.3"/>
<line x1="475.80" y1="156.30" x2="479.60" y2="156.30" stroke-width="1.3"/>
<polyline points="498.40,130.90 504.10,159.40 513.00,160.50" stroke-width="1.3" stroke-linejoin="round"/>
<line x1="498.40" y1="127.70" x2="498.40" y2="135.10" stroke-width="1.5"/>
<line x1="496.50" y1="127.70" x2="500.30" y2="127.70" stroke-width="1.3"/>
<line x1="496.50" y1="135.10" x2="500.30" y2="135.10" stroke-width="1.3"/>
<line x1="504.10" y1="156.90" x2="504.10" y2="161.10" stroke-width="1.5"/>
<line x1="502.20" y1="156.90" x2="506.00" y2="156.90" stroke-width="1.3"/>
<line x1="502.20" y1="161.10" x2="506.00" y2="161.10" stroke-width="1.3"/>
<line x1="513.00" y1="158.40" x2="513.00" y2="162.00" stroke-width="1.5"/>
<line x1="511.10" y1="158.40" x2="514.90" y2="158.40" stroke-width="1.3"/>
<line x1="511.10" y1="162.00" x2="514.90" y2="162.00" stroke-width="1.3"/>
<line x1="26.50" y1="232.10" x2="26.50" y2="299.25" stroke-width="1.3" stroke="#333"/>
<line x1="23.90" y1="298.75" x2="26.50" y2="298.75" stroke-width="0.9"/>
<line x1="23.90" y1="282.21" x2="26.50" y2="282.21" stroke-width="0.9"/>
<line x1="23.90" y1="265.68" x2="26.50" y2="265.68" stroke-width="0.9"/>
<line x1="23.90" y1="249.14" x2="26.50" y2="249.14" stroke-width="0.9"/>
<line x1="23.90" y1="232.60" x2="26.50" y2="232.60" stroke-width="0.9"/>
<line x1="25.90" y1="298.75" x2="102.40" y2="298.75" stroke-width="1.2" stroke="#222"/>
<line x1="107.50" y1="298.75" x2="125.90" y2="298.75" stroke-width="1.2" stroke="#222"/>
<line x1="102.40" y1="297.55" x2="102.40" y2="300.35" stroke-width="1.0"/>
<line x1="107.50" y1="297.55" x2="107.50" y2="300.35" stroke-width="1.0"/>
<line x1="30.60" y1="298.75" x2="30.60" y2="300.95" stroke-width="0.9"/>
<line x1="45.60" y1="298.75" x2="45.60" y2="300.95" stroke-width="0.9"/>
<line x1="60.70" y1="298.75" x2="60.70" y2="300.95" stroke-width="0.9"/>
<line x1="75.80" y1="298.75" x2="75.80" y2="300.95" stroke-width="0.9"/>
<line x1="90.90" y1="298.75" x2="90.90" y2="300.95" stroke-width="0.9"/>
<line x1="110.70" y1="298.75" x2="110.70" y2="300.95" stroke-width="0.9"/>
<line x1="125.70" y1="298.75" x2="125.70" y2="300.95" stroke-width="0.9"/>
<line x1="29.80" y1="238.40" x2="50.90" y2="238.40" stroke-width="1.3"/>
<line x1="40.50" y1="237.00" x2="40.50" y2="238.40" stroke-width="0.8"/>
<polyline points="30.30,275.30 45.10,264.80 47.80,266.20 50.90,252.50 55.60,256.00 61.40,266.50 66.70,263.90 71.80,264.80 77.40,253.40 81.90,265.60 87.50,267.40 92.80,262.70 104.20,257.80" stroke-width="1.3" stroke-linejoin="round"/>
<line x1="30.30" y1="267.40" x2="30.30" y2="282.30" stroke-width="1.5"/>
<line x1="28.40" y1="267.40" x2="32.20" y2="267.40" stroke-width="1.3"/>
<line x1="28.40" y1="282.30" x2="32.20" y2="282.30" stroke-width="1.3"/>
<line x1="45.10" y1="255.70" x2="45.10" y2="272.70" stroke-width="1.5"/>
<line x1="43.20" y1="255.70" x2="47.00" y2="255.70" stroke-width="1.3"/>
<line x1="43.20" y1="272.70" x2="47.00" y2="272.70" stroke-width="1.3"/>
<line x1="47.80" y1="256.00" x2="47.80" y2="276.20" stroke-width="1.5"/>
<line x1="45.90" y1="256.00" x2="49.70" y2="256.00" stroke-width="1.3"/>
<line x1="45.90" y1="276.20" x2="49.70" y2="276.20" stroke-width="1.3"/>
<line x1="50.90" y1="246.40" x2="50.90" y2="261.30" stroke-width="1.5"/>
<line x1="49.00" y1="246.40" x2="52.80" y2="246.40" stroke-width="1.3"/>
<line x1="49.00" y1="261.30" x2="52.80" y2="261.30" stroke-width="1.3"/>
<line x1="55.60" y1="244.60" x2="55.60" y2="267.40" stroke-width="1.5"/>
<line x1="53.70" y1="244.60" x2="57.50" y2="244.60" stroke-width="1.3"/>
<line x1="53.70" y1="267.40" x2="57.50" y2="267.40" stroke-width="1.3"/>
<line x1="61.40" y1="256.00" x2="61.40" y2="278.80" stroke-width="1.5"/>
<line x1="59.50" y1="256.00" x2="63.30" y2="256.00" stroke-width="1.3"/>
<line x1="59.50" y1="278.80" x2="63.30" y2="278.80" stroke-width="1.3"/>
<line x1="66.70" y1="255.70" x2="66.70" y2="271.80" stroke-width="1.5"/>
<line x1="64.80" y1="255.70" x2="68.60" y2="255.70" stroke-width="1.3"/>
<line x1="64.80" y1="271.80" x2="68.60" y2="271.80" stroke-width="1.3"/>
<line x1="71.80" y1="256.90" x2="71.80" y2="273.20" stroke-width="1.5"/>
<line x1="69.90" y1="256.90" x2="73.70" y2="256.90" stroke-width="1.3"/>
<line x1="69.90" y1="273.20" x2="73.70" y2="273.20" stroke-width="1.3"/>
<line x1="77.40" y1="241.70" x2="77.40" y2="263.90" stroke-width="1.5"/>
<line x1="75.50" y1="241.70" x2="79.30" y2="241.70" stroke-width="1.3"/>
<line x1="75.50" y1="263.90" x2="79.30" y2="263.90" stroke-width="1.3"/>
<line x1="81.90" y1="258.60" x2="81.90" y2="273.50" stroke-width="1.5"/>
<line x1="80.00" y1="258.60" x2="83.80" y2="258.60" stroke-width="1.3"/>
<line x1="80.00" y1="273.50" x2="83.80" y2="273.50" stroke-width="1.3"/>
<line x1="87.50" y1="261.30" x2="87.50" y2="273.20" stroke-width="1.5"/>
<line x1="85.60" y1="261.30" x2="89.40" y2="261.30" stroke-width="1.3"/>
<line x1="85.60" y1="273.20" x2="89.40" y2="273.20" stroke-width="1.3"/>
<line x1="92.80" y1="254.30" x2="92.80" y2="270.90" stroke-width="1.5"/>
<line x1="90.90" y1="254.30" x2="94.70" y2="254.30" stroke-width="1.3"/>
<line x1="90.90" y1="270.90" x2="94.70" y2="270.90" stroke-width="1.3"/>
<polyline points="108.50,256.90 113.40,276.20 118.50,260.40 122.90,281.40" stroke-width="1.3" stroke-linejoin="round"/>
<line x1="108.50" y1="246.90" x2="108.50" y2="267.40" stroke-width="1.5"/>
<line x1="106.60" y1="246.90" x2="110.40" y2="246.90" stroke-width="1.3"/>
<line x1="106.60" y1="267.40" x2="110.40" y2="267.40" stroke-width="1.3"/>
<line x1="113.40" y1="270.90" x2="113.40" y2="284.00" stroke-width="1.5"/>
<line x1="111.50" y1="270.90" x2="115.30" y2="270.90" stroke-width="1.3"/>
<line x1="111.50" y1="284.00" x2="115.30" y2="284.00" stroke-width="1.3"/>
<line x1="118.50" y1="249.90" x2="118.50" y2="270.90" stroke-width="1.5"/>
<line x1="116.60" y1="249.90" x2="120.40" y2="249.90" stroke-width="1.3"/>
<line x1="116.60" y1="270.90" x2="120.40" y2="270.90" stroke-width="1.3"/>
<line x1="122.90" y1="277.00" x2="122.90" y2="285.80" stroke-width="1.5"/>
<line x1="121.00" y1="277.00" x2="124.80" y2="277.00" stroke-width="1.3"/>
<line x1="121.00" y1="285.80" x2="124.80" y2="285.80" stroke-width="1.3"/>
<line x1="154.60" y1="232.10" x2="154.60" y2="299.25" stroke-width="1.3" stroke="#333"/>
<line x1="152.00" y1="298.75" x2="154.60" y2="298.75" stroke-width="0.9"/>
<line x1="152.00" y1="276.70" x2="154.60" y2="276.70" stroke-width="0.9"/>
<line x1="152.00" y1="254.65" x2="154.60" y2="254.65" stroke-width="0.9"/>
<line x1="152.00" y1="232.60" x2="154.60" y2="232.60" stroke-width="0.9"/>
<line x1="154.00" y1="298.75" x2="230.30" y2="298.75" stroke-width="1.2" stroke="#222"/>
<line x1="235.20" y1="298.75" x2="253.90" y2="298.75" stroke-width="1.2" stroke="#222"/>
<line x1="230.30" y1="297.55" x2="230.30" y2="300.35" stroke-width="1.0"/>
<line x1="235.20" y1="297.55" x2="235.20" y2="300.35" stroke-width="1.0"/>
<line x1="158.40" y1="298.75" x2="158.40" y2="300.95" stroke-width="0.9"/>
<line x1="173.30" y1="298.75" x2="173.30" y2="300.95" stroke-width="0.9"/>
<line x1="188.80" y1="298.75" x2="188.80" y2="300.95" stroke-width="0.9"/>
<line x1="203.80" y1="298.75" x2="203.80" y2="300.95" stroke-width="0.9"/>
<line x1="218.80" y1="298.75" x2="218.80" y2="300.95" stroke-width="0.9"/>
<line x1="238.50" y1="298.75" x2="238.50" y2="300.95" stroke-width="0.9"/>
<line x1="253.70" y1="298.75" x2="253.70" y2="300.95" stroke-width="0.9"/>
<polyline points="157.90,256.00 173.60,254.10 175.60,254.00 177.80,254.00 183.80,253.50 189.50,251.30 194.60,257.30 200.60,256.80 205.40,254.50 210.10,248.90 215.40,254.50 220.80,253.70 229.20,254.00" stroke-width="1.3" stroke-linejoin="round"/>
<line x1="157.90" y1="249.60" x2="157.90" y2="263.30" stroke-width="1.5"/>
<line x1="156.00" y1="249.60" x2="159.80" y2="249.60" stroke-width="1.3"/>
<line x1="156.00" y1="263.30" x2="159.80" y2="263.30" stroke-width="1.3"/>
<line x1="173.60" y1="247.10" x2="173.60" y2="259.80" stroke-width="1.5"/>
<line x1="171.70" y1="247.10" x2="175.50" y2="247.10" stroke-width="1.3"/>
<line x1="171.70" y1="259.80" x2="175.50" y2="259.80" stroke-width="1.3"/>
<line x1="175.60" y1="247.10" x2="175.60" y2="260.50" stroke-width="1.5"/>
<line x1="173.70" y1="247.10" x2="177.50" y2="247.10" stroke-width="1.3"/>
<line x1="173.70" y1="260.50" x2="177.50" y2="260.50" stroke-width="1.3"/>
<line x1="177.80" y1="247.10" x2="177.80" y2="261.10" stroke-width="1.5"/>
<line x1="175.90" y1="247.10" x2="179.70" y2="247.10" stroke-width="1.3"/>
<line x1="175.90" y1="261.10" x2="179.70" y2="261.10" stroke-width="1.3"/>
<line x1="183.80" y1="246.70" x2="183.80" y2="259.20" stroke-width="1.5"/>
<line x1="181.90" y1="246.70" x2="185.70" y2="246.70" stroke-width="1.3"/>
<line x1="181.90" y1="259.20" x2="185.70" y2="259.20" stroke-width="1.3"/>
<line x1="189.50" y1="241.10" x2="189.50" y2="261.10" stroke-width="1.5"/>
<line x1="187.60" y1="241.10" x2="191.40" y2="241.10" stroke-width="1.3"/>
<line x1="187.60" y1="261.10" x2="191.40" y2="261.10" stroke-width="1.3"/>
<line x1="194.60" y1="249.00" x2="194.60" y2="266.20" stroke-width="1.5"/>
<line x1="192.70" y1="249.00" x2="196.50" y2="249.00" stroke-width="1.3"/>
<line x1="192.70" y1="266.20" x2="196.50" y2="266.20" stroke-width="1.3"/>
<line x1="200.60" y1="248.60" x2="200.60" y2="262.90" stroke-width="1.5"/>
<line x1="198.70" y1="248.60" x2="202.50" y2="248.60" stroke-width="1.3"/>
<line x1="198.70" y1="262.90" x2="202.50" y2="262.90" stroke-width="1.3"/>
<line x1="205.40" y1="246.00" x2="205.40" y2="262.90" stroke-width="1.5"/>
<line x1="203.50" y1="246.00" x2="207.30" y2="246.00" stroke-width="1.3"/>
<line x1="203.50" y1="262.90" x2="207.30" y2="262.90" stroke-width="1.3"/>
<line x1="210.10" y1="239.30" x2="210.10" y2="257.60" stroke-width="1.5"/>
<line x1="208.20" y1="239.30" x2="212.00" y2="239.30" stroke-width="1.3"/>
<line x1="208.20" y1="257.60" x2="212.00" y2="257.60" stroke-width="1.3"/>
<line x1="215.40" y1="248.10" x2="215.40" y2="262.40" stroke-width="1.5"/>
<line x1="213.50" y1="248.10" x2="217.30" y2="248.10" stroke-width="1.3"/>
<line x1="213.50" y1="262.40" x2="217.30" y2="262.40" stroke-width="1.3"/>
<line x1="220.80" y1="246.50" x2="220.80" y2="260.00" stroke-width="1.5"/>
<line x1="218.90" y1="246.50" x2="222.70" y2="246.50" stroke-width="1.3"/>
<line x1="218.90" y1="260.00" x2="222.70" y2="260.00" stroke-width="1.3"/>
<polyline points="236.40,254.50 241.20,244.90 246.30,242.50 250.70,247.30" stroke-width="1.3" stroke-linejoin="round"/>
<line x1="236.40" y1="247.30" x2="236.40" y2="262.00" stroke-width="1.5"/>
<line x1="234.50" y1="247.30" x2="238.30" y2="247.30" stroke-width="1.3"/>
<line x1="234.50" y1="262.00" x2="238.30" y2="262.00" stroke-width="1.3"/>
<line x1="241.20" y1="236.10" x2="241.20" y2="254.50" stroke-width="1.5"/>
<line x1="239.30" y1="236.10" x2="243.10" y2="236.10" stroke-width="1.3"/>
<line x1="239.30" y1="254.50" x2="243.10" y2="254.50" stroke-width="1.3"/>
<line x1="246.30" y1="235.40" x2="246.30" y2="251.30" stroke-width="1.5"/>
<line x1="244.40" y1="235.40" x2="248.20" y2="235.40" stroke-width="1.3"/>
<line x1="244.40" y1="251.30" x2="248.20" y2="251.30" stroke-width="1.3"/>
<line x1="250.70" y1="237.70" x2="250.70" y2="257.60" stroke-width="1.5"/>
<line x1="248.80" y1="237.70" x2="252.60" y2="237.70" stroke-width="1.3"/>
<line x1="248.80" y1="257.60" x2="252.60" y2="257.60" stroke-width="1.3"/>
</g>
<g fill="#000" font-family="Liberation Sans, sans-serif">
<text x="0.00" y="8.70" font-size="12" text-anchor="start" font-weight="bold" >A</text>
<text x="75.50" y="11.00" font-size="6.25" text-anchor="middle" font-weight="bold" >CD4 count</text>
<text x="24.00" y="87.15" font-size="4.6" text-anchor="end" font-weight="bold" >0</text>
<text x="24.00" y="78.31" font-size="4.6" text-anchor="end" font-weight="bold" >200</text>
<text x="24.00" y="69.47" font-size="4.6" text-anchor="end" font-weight="bold" >400</text>
<text x="24.00" y="60.63" font-size="4.6" text-anchor="end" font-weight="bold" >600</text>
<text x="24.00" y="51.79" font-size="4.6" text-anchor="end" font-weight="bold" >800</text>
<text x="24.00" y="42.95" font-size="4.6" text-anchor="end" font-weight="bold" >1000</text>
<text x="24.00" y="34.11" font-size="4.6" text-anchor="end" font-weight="bold" >1200</text>
<text x="24.00" y="25.27" font-size="4.6" text-anchor="end" font-weight="bold" >1400</text>
<text x="30.80" y="92.60" font-size="4.7" text-anchor="middle" font-weight="bold" >-20</text>
<text x="45.80" y="92.60" font-size="4.7" text-anchor="middle" font-weight="bold" >0</text>
<text x="60.90" y="92.60" font-size="4.7" text-anchor="middle" font-weight="bold" >20</text>
<text x="76.00" y="92.60" font-size="4.7" text-anchor="middle" font-weight="bold" >40</text>
<text x="91.10" y="92.60" font-size="4.7" text-anchor="middle" font-weight="bold" >60</text>
<text x="110.90" y="92.60" font-size="4.7" text-anchor="middle" font-weight="bold" >100</text>
<text x="125.90" y="92.60" font-size="4.7" text-anchor="middle" font-weight="bold" >200</text>
<text x="76.30" y="99.90" font-size="5.4" text-anchor="middle" font-weight="bold" >Treatment Day</text>
<circle cx="67.70" cy="20.40" r="0.9"/>
<circle cx="70.70" cy="20.40" r="0.9"/>
<circle cx="77.20" cy="25.80" r="0.9"/>
<text transform="translate(5.70,52.35) rotate(-90)" font-size="5.1" text-anchor="middle" font-weight="bold">CD4+ T-cells /</text>
<text transform="translate(10.80,51.65) rotate(-90)" font-size="5.3" text-anchor="middle" font-weight="normal" stroke="#000" stroke-width="0.12">µl whole blood</text>
<text x="134.60" y="8.70" font-size="12" text-anchor="start" font-weight="bold" >B</text>
<text x="204.30" y="11.00" font-size="6.25" text-anchor="middle" font-weight="bold" >%CD4</text>
<text x="152.20" y="87.15" font-size="4.6" text-anchor="end" font-weight="bold" >0</text>
<text x="152.20" y="70.70" font-size="4.6" text-anchor="end" font-weight="bold" >10</text>
<text x="152.20" y="54.25" font-size="4.6" text-anchor="end" font-weight="bold" >20</text>
<text x="152.20" y="37.80" font-size="4.6" text-anchor="end" font-weight="bold" >30</text>
<text x="152.20" y="21.35" font-size="4.6" text-anchor="end" font-weight="bold" >40</text>
<text x="158.60" y="92.60" font-size="4.7" text-anchor="middle" font-weight="bold" >-20</text>
<text x="173.70" y="92.60" font-size="4.7" text-anchor="middle" font-weight="bold" >0</text>
<text x="189.20" y="92.60" font-size="4.7" text-anchor="middle" font-weight="bold" >20</text>
<text x="204.20" y="92.60" font-size="4.7" text-anchor="middle" font-weight="bold" >40</text>
<text x="219.20" y="92.60" font-size="4.7" text-anchor="middle" font-weight="bold" >60</text>
<text x="238.70" y="92.60" font-size="4.7" text-anchor="middle" font-weight="bold" >100</text>
<text x="253.90" y="92.60" font-size="4.7" text-anchor="middle" font-weight="bold" >200</text>
<text x="204.40" y="99.90" font-size="5.4" text-anchor="middle" font-weight="bold" >Treatment Day</text>
<circle cx="195.50" cy="21.40" r="0.9"/>
<circle cx="198.00" cy="21.40" r="0.9"/>
<circle cx="200.50" cy="21.40" r="0.9"/>
<circle cx="205.20" cy="27.00" r="0.9"/>
<text transform="translate(145.20,53.40) rotate(-90)" font-size="5.1" text-anchor="middle" font-weight="bold">%CD4+ T cells</text>
<text x="263.20" y="8.70" font-size="12" text-anchor="start" font-weight="bold" >C</text>
<text x="335.70" y="11.00" font-size="6.25" text-anchor="middle" font-weight="bold" >LN</text>
<text x="283.10" y="87.15" font-size="4.6" text-anchor="end" font-weight="bold" >35</text>
<text x="283.10" y="70.72" font-size="4.6" text-anchor="end" font-weight="bold" >40</text>
<text x="283.10" y="54.30" font-size="4.6" text-anchor="end" font-weight="bold" >45</text>
<text x="283.10" y="37.88" font-size="4.6" text-anchor="end" font-weight="bold" >50</text>
<text x="283.10" y="21.45" font-size="4.6" text-anchor="end" font-weight="bold" >55</text>
<text x="290.20" y="92.60" font-size="4.7" text-anchor="middle" font-weight="bold" >-20</text>
<text x="304.70" y="92.60" font-size="4.7" text-anchor="middle" font-weight="bold" >0</text>
<text x="319.90" y="92.60" font-size="4.7" text-anchor="middle" font-weight="bold" >20</text>
<text x="334.90" y="92.60" font-size="4.7" text-anchor="middle" font-weight="bold" >40</text>
<text x="349.70" y="92.60" font-size="4.7" text-anchor="middle" font-weight="bold" >60</text>
<text x="370.00" y="92.60" font-size="4.7" text-anchor="middle" font-weight="bold" >100</text>
<text x="385.20" y="92.60" font-size="4.7" text-anchor="middle" font-weight="bold" >200</text>
<text x="335.50" y="99.90" font-size="5.4" text-anchor="middle" font-weight="bold" >Treatment Day</text>
<text transform="translate(276.30,53.45) rotate(-90)" font-size="5.1" text-anchor="middle" font-weight="bold">%CD4+ CD3+ T cells</text>
<text x="395.90" y="8.70" font-size="12" text-anchor="start" font-weight="bold" >D</text>
<text x="466.90" y="11.00" font-size="6.25" text-anchor="middle" font-weight="bold" >RB</text>
<text x="414.10" y="87.15" font-size="4.6" text-anchor="end" font-weight="bold" >0</text>
<text x="414.10" y="70.67" font-size="4.6" text-anchor="end" font-weight="bold" >10</text>
<text x="414.10" y="54.20" font-size="4.6" text-anchor="end" font-weight="bold" >20</text>
<text x="414.10" y="37.72" font-size="4.6" text-anchor="end" font-weight="bold" >30</text>
<text x="414.10" y="21.25" font-size="4.6" text-anchor="end" font-weight="bold" >40</text>
<text x="421.00" y="92.60" font-size="4.7" text-anchor="middle" font-weight="bold" >-20</text>
<text x="436.00" y="92.60" font-size="4.7" text-anchor="middle" font-weight="bold" >0</text>
<text x="451.20" y="92.60" font-size="4.7" text-anchor="middle" font-weight="bold" >20</text>
<text x="466.40" y="92.60" font-size="4.7" text-anchor="middle" font-weight="bold" >40</text>
<text x="481.40" y="92.60" font-size="4.7" text-anchor="middle" font-weight="bold" >60</text>
<text x="501.60" y="92.60" font-size="4.7" text-anchor="middle" font-weight="bold" >100</text>
<text x="516.60" y="92.60" font-size="4.7" text-anchor="middle" font-weight="bold" >200</text>
<text x="466.70" y="99.90" font-size="5.4" text-anchor="middle" font-weight="bold" >Treatment Day</text>
<circle cx="457.10" cy="21.40" r="0.9"/>
<circle cx="459.60" cy="21.40" r="0.9"/>
<circle cx="462.10" cy="21.40" r="0.9"/>
<text transform="translate(407.40,53.35) rotate(-90)" font-size="5.1" text-anchor="middle" font-weight="bold">%CD4+ CD3+ T cells</text>
<text x="0.20" y="114.30" font-size="12" text-anchor="start" font-weight="bold" >E</text>
<text x="75.50" y="114.30" font-size="6.25" text-anchor="middle" font-weight="bold" >CD8 count</text>
<text x="23.80" y="189.95" font-size="4.6" text-anchor="end" font-weight="bold" >0</text>
<text x="23.80" y="176.83" font-size="4.6" text-anchor="end" font-weight="bold" >500</text>
<text x="23.80" y="163.71" font-size="4.6" text-anchor="end" font-weight="bold" >1000</text>
<text x="23.80" y="150.59" font-size="4.6" text-anchor="end" font-weight="bold" >1500</text>
<text x="23.80" y="137.47" font-size="4.6" text-anchor="end" font-weight="bold" >2000</text>
<text x="23.80" y="124.35" font-size="4.6" text-anchor="end" font-weight="bold" >2500</text>
<text x="30.80" y="195.90" font-size="4.7" text-anchor="middle" font-weight="bold" >-20</text>
<text x="45.80" y="195.90" font-size="4.7" text-anchor="middle" font-weight="bold" >0</text>
<text x="60.90" y="195.90" font-size="4.7" text-anchor="middle" font-weight="bold" >20</text>
<text x="76.00" y="195.90" font-size="4.7" text-anchor="middle" font-weight="bold" >40</text>
<text x="91.10" y="195.90" font-size="4.7" text-anchor="middle" font-weight="bold" >60</text>
<text x="110.90" y="195.90" font-size="4.7" text-anchor="middle" font-weight="bold" >100</text>
<text x="125.90" y="195.90" font-size="4.7" text-anchor="middle" font-weight="bold" >200</text>
<text x="76.20" y="202.70" font-size="5.4" text-anchor="middle" font-weight="bold" >Treatment Day</text>
<text transform="translate(5.80,155.50) rotate(-90)" font-size="5.1" text-anchor="middle" font-weight="bold">CD8+ T-cells /</text>
<text transform="translate(10.90,154.80) rotate(-90)" font-size="5.3" text-anchor="middle" font-weight="normal" stroke="#000" stroke-width="0.12">µl whole blood</text>
<text x="134.30" y="114.30" font-size="12" text-anchor="start" font-weight="bold" >F</text>
<text x="204.30" y="114.30" font-size="6.25" text-anchor="middle" font-weight="bold" >%CD8</text>
<text x="151.90" y="189.95" font-size="4.6" text-anchor="end" font-weight="bold" >0</text>
<text x="151.90" y="173.47" font-size="4.6" text-anchor="end" font-weight="bold" >20</text>
<text x="151.90" y="157.00" font-size="4.6" text-anchor="end" font-weight="bold" >40</text>
<text x="151.90" y="140.53" font-size="4.6" text-anchor="end" font-weight="bold" >60</text>
<text x="151.90" y="124.05" font-size="4.6" text-anchor="end" font-weight="bold" >80</text>
<text x="158.60" y="195.90" font-size="4.7" text-anchor="middle" font-weight="bold" >-20</text>
<text x="173.50" y="195.90" font-size="4.7" text-anchor="middle" font-weight="bold" >0</text>
<text x="189.00" y="195.90" font-size="4.7" text-anchor="middle" font-weight="bold" >20</text>
<text x="204.00" y="195.90" font-size="4.7" text-anchor="middle" font-weight="bold" >40</text>
<text x="219.00" y="195.90" font-size="4.7" text-anchor="middle" font-weight="bold" >60</text>
<text x="238.70" y="195.90" font-size="4.7" text-anchor="middle" font-weight="bold" >100</text>
<text x="253.90" y="195.90" font-size="4.7" text-anchor="middle" font-weight="bold" >200</text>
<text x="204.25" y="202.70" font-size="5.4" text-anchor="middle" font-weight="bold" >Treatment Day</text>
<circle cx="194.30" cy="123.80" r="0.9"/>
<circle cx="196.80" cy="123.80" r="0.9"/>
<circle cx="199.30" cy="123.80" r="0.9"/>
<text transform="translate(145.20,156.15) rotate(-90)" font-size="5.1" text-anchor="middle" font-weight="bold">%CD8+ T cells</text>
<text x="263.20" y="114.30" font-size="12" text-anchor="start" font-weight="bold" >G</text>
<text x="335.70" y="114.30" font-size="6.25" text-anchor="middle" font-weight="bold" >LN</text>
<text x="283.10" y="189.95" font-size="4.6" text-anchor="end" font-weight="bold" >20</text>
<text x="283.10" y="173.47" font-size="4.6" text-anchor="end" font-weight="bold" >25</text>
<text x="283.10" y="157.00" font-size="4.6" text-anchor="end" font-weight="bold" >30</text>
<text x="283.10" y="140.53" font-size="4.6" text-anchor="end" font-weight="bold" >35</text>
<text x="283.10" y="124.05" font-size="4.6" text-anchor="end" font-weight="bold" >40</text>
<text x="290.20" y="195.90" font-size="4.7" text-anchor="middle" font-weight="bold" >-20</text>
<text x="304.70" y="195.90" font-size="4.7" text-anchor="middle" font-weight="bold" >0</text>
<text x="319.90" y="195.90" font-size="4.7" text-anchor="middle" font-weight="bold" >20</text>
<text x="334.90" y="195.90" font-size="4.7" text-anchor="middle" font-weight="bold" >40</text>
<text x="349.70" y="195.90" font-size="4.7" text-anchor="middle" font-weight="bold" >60</text>
<text x="370.00" y="195.90" font-size="4.7" text-anchor="middle" font-weight="bold" >100</text>
<text x="385.20" y="195.90" font-size="4.7" text-anchor="middle" font-weight="bold" >200</text>
<text x="335.50" y="202.70" font-size="5.4" text-anchor="middle" font-weight="bold" >Treatment Day</text>
<text transform="translate(276.30,156.15) rotate(-90)" font-size="5.1" text-anchor="middle" font-weight="bold">%CD8+ CD3+ T cells</text>
<text x="395.90" y="114.30" font-size="12" text-anchor="start" font-weight="bold" >H</text>
<text x="466.90" y="114.30" font-size="6.25" text-anchor="middle" font-weight="bold" >RB</text>
<text x="413.60" y="189.95" font-size="4.6" text-anchor="end" font-weight="bold" >0</text>
<text x="413.60" y="173.47" font-size="4.6" text-anchor="end" font-weight="bold" >20</text>
<text x="413.60" y="157.00" font-size="4.6" text-anchor="end" font-weight="bold" >40</text>
<text x="413.60" y="140.53" font-size="4.6" text-anchor="end" font-weight="bold" >60</text>
<text x="413.60" y="124.05" font-size="4.6" text-anchor="end" font-weight="bold" >80</text>
<text x="421.00" y="195.90" font-size="4.7" text-anchor="middle" font-weight="bold" >-20</text>
<text x="435.50" y="195.90" font-size="4.7" text-anchor="middle" font-weight="bold" >0</text>
<text x="450.90" y="195.90" font-size="4.7" text-anchor="middle" font-weight="bold" >20</text>
<text x="466.20" y="195.90" font-size="4.7" text-anchor="middle" font-weight="bold" >40</text>
<text x="480.80" y="195.90" font-size="4.7" text-anchor="middle" font-weight="bold" >60</text>
<text x="501.60" y="195.90" font-size="4.7" text-anchor="middle" font-weight="bold" >100</text>
<text x="516.40" y="195.90" font-size="4.7" text-anchor="middle" font-weight="bold" >200</text>
<text x="466.45" y="202.70" font-size="5.4" text-anchor="middle" font-weight="bold" >Treatment Day</text>
<circle cx="457.00" cy="123.80" r="0.9"/>
<circle cx="459.50" cy="123.80" r="0.9"/>
<circle cx="462.00" cy="123.80" r="0.9"/>
<text transform="translate(406.90,156.15) rotate(-90)" font-size="5.1" text-anchor="middle" font-weight="bold">%CD8+ CD3+ T cells</text>
<text x="0.20" y="224.00" font-size="12" text-anchor="start" font-weight="bold" >I</text>
<text x="76.50" y="224.50" font-size="6.25" text-anchor="middle" font-weight="bold" >NK count</text>
<text x="23.80" y="300.60" font-size="4.6" text-anchor="end" font-weight="bold" >0</text>
<text x="23.80" y="284.06" font-size="4.6" text-anchor="end" font-weight="bold" >100</text>
<text x="23.80" y="267.53" font-size="4.6" text-anchor="end" font-weight="bold" >200</text>
<text x="23.80" y="250.99" font-size="4.6" text-anchor="end" font-weight="bold" >300</text>
<text x="23.80" y="234.45" font-size="4.6" text-anchor="end" font-weight="bold" >400</text>
<text x="30.80" y="305.80" font-size="4.7" text-anchor="middle" font-weight="bold" >-20</text>
<text x="45.80" y="305.80" font-size="4.7" text-anchor="middle" font-weight="bold" >0</text>
<text x="60.90" y="305.80" font-size="4.7" text-anchor="middle" font-weight="bold" >20</text>
<text x="76.00" y="305.80" font-size="4.7" text-anchor="middle" font-weight="bold" >40</text>
<text x="91.10" y="305.80" font-size="4.7" text-anchor="middle" font-weight="bold" >60</text>
<text x="110.90" y="305.80" font-size="4.7" text-anchor="middle" font-weight="bold" >100</text>
<text x="125.90" y="305.80" font-size="4.7" text-anchor="middle" font-weight="bold" >200</text>
<text x="76.20" y="312.50" font-size="5.4" text-anchor="middle" font-weight="bold" >Treatment Day</text>
<circle cx="40.50" cy="235.40" r="0.9"/>
<text transform="translate(7.70,265.88) rotate(-90)" font-size="5.1" text-anchor="middle" font-weight="bold">NK cells /</text>
<text transform="translate(13.40,265.18) rotate(-90)" font-size="5.3" text-anchor="middle" font-weight="normal" stroke="#000" stroke-width="0.12">µl whole blood</text>
<text x="134.30" y="224.00" font-size="12" text-anchor="start" font-weight="bold" >J</text>
<text x="204.30" y="224.50" font-size="6.25" text-anchor="middle" font-weight="bold" >CD20 count</text>
<text x="151.90" y="300.60" font-size="4.6" text-anchor="end" font-weight="bold" >0</text>
<text x="151.90" y="278.55" font-size="4.6" text-anchor="end" font-weight="bold" >200</text>
<text x="151.90" y="256.50" font-size="4.6" text-anchor="end" font-weight="bold" >400</text>
<text x="151.90" y="234.45" font-size="4.6" text-anchor="end" font-weight="bold" >600</text>
<text x="158.60" y="305.80" font-size="4.7" text-anchor="middle" font-weight="bold" >-20</text>
<text x="173.50" y="305.80" font-size="4.7" text-anchor="middle" font-weight="bold" >0</text>
<text x="189.00" y="305.80" font-size="4.7" text-anchor="middle" font-weight="bold" >20</text>
<text x="204.00" y="305.80" font-size="4.7" text-anchor="middle" font-weight="bold" >40</text>
<text x="219.00" y="305.80" font-size="4.7" text-anchor="middle" font-weight="bold" >60</text>
<text x="238.70" y="305.80" font-size="4.7" text-anchor="middle" font-weight="bold" >100</text>
<text x="253.90" y="305.80" font-size="4.7" text-anchor="middle" font-weight="bold" >200</text>
<text x="204.25" y="312.50" font-size="5.4" text-anchor="middle" font-weight="bold" >Treatment Day</text>
<text transform="translate(136.10,265.88) rotate(-90)" font-size="5.1" text-anchor="middle" font-weight="bold">CD20+ B cells /</text>
<text transform="translate(141.60,265.18) rotate(-90)" font-size="5.3" text-anchor="middle" font-weight="normal" stroke="#000" stroke-width="0.12">µl whole blood</text>
</g>
</svg>
</body></html>
